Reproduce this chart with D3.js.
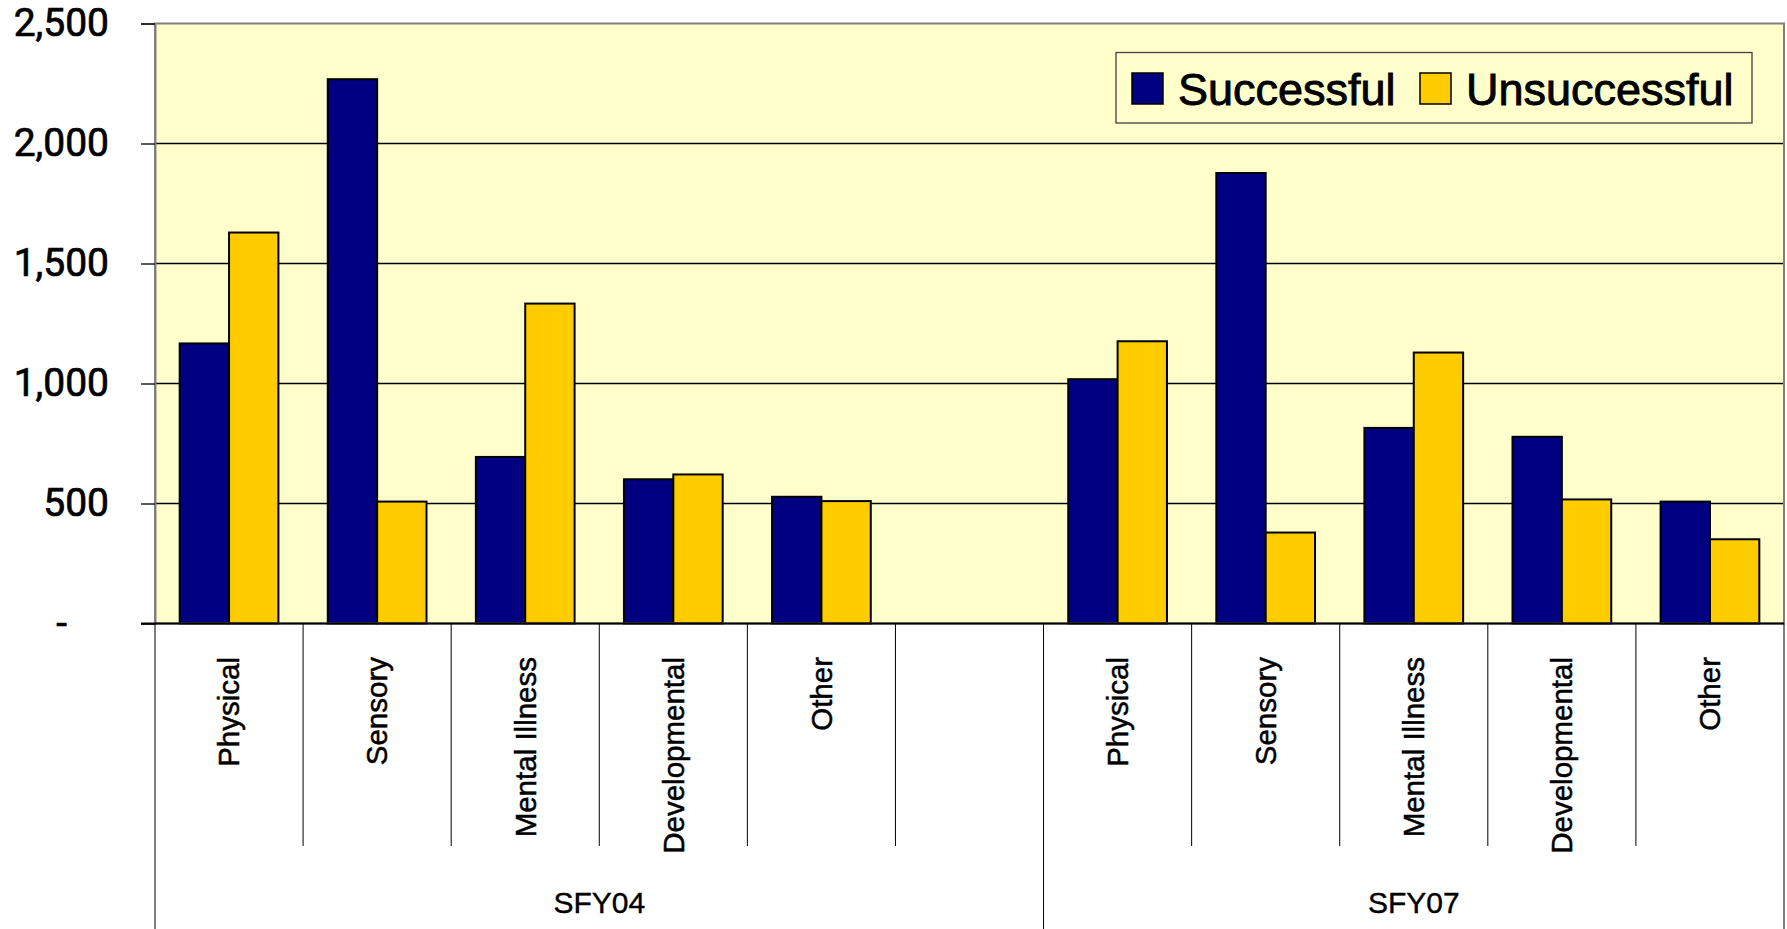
<!DOCTYPE html>
<html>
<head>
<meta charset="utf-8">
<script src="https://cdn.jsdelivr.net/npm/d3@7"></script>
<style>
  html, body { margin: 0; padding: 0; background: #ffffff; }
  svg { display: block; }
</style>
</head>
<body>
<svg id="chart" width="1787" height="929"></svg>
<script>
// ---------- data ----------
const years = ["SFY04", "SFY07"];
const categories = ["Physical", "Sensory", "Mental Illness", "Developmental", "Other"];
const seriesNames = ["Successful", "Unsuccessful"];
const successful04 = [1167, 2268, 694, 601, 528];
const unsuccessful04 = [1629, 508, 1333, 621, 510];
const successful07 = [1018, 1877, 815, 778, 508];
const unsuccessful07 = [1176, 379, 1129, 517, 351];
const tickValues = [0, 500, 1000, 1500, 2000, 2500];
const tickLabels = ["-", "500", "1,000", "1,500", "2,000", "2,500"];
// SFY04 group has one extra empty slot after its categories
const slotsPerYear = [categories.concat([""]), categories];
const colors = ["#000080", "#FFCC00"];

// ---------- layout ----------
const W = 1787, H = 929;
const plotLeft = 155, plotRight = 1784, plotTop = 23.5, plotBottom = 623.5;

// build slot table
const slots = [];
years.forEach((yr, yi) => {
  slotsPerYear[yi].forEach((cat, ci) => {
    slots.push({ id: yr + "|" + ci, year: yr, cat: cat, ci: ci, yi: yi });
  });
});
const valuesBy = {
  SFY04: [successful04, unsuccessful04],
  SFY07: [successful07, unsuccessful07]
};
const bars = [];
slots.forEach(s => {
  if (s.cat === "") return;
  seriesNames.forEach((sn, si) => {
    bars.push({ slot: s.id, series: si, value: valuesBy[s.year][si][s.ci] });
  });
});

const x = d3.scaleBand().domain(slots.map(s => s.id)).range([plotLeft, plotRight]).padding(0);
const bw = x.bandwidth();
const xInner = d3.scaleBand().domain(d3.range(seriesNames.length))
  .range([0, bw]).paddingInner(0).paddingOuter(0.5);
const y = d3.scaleLinear().domain([0, 2500]).range([plotBottom, plotTop]);

const svg = d3.select("#chart");

// plot background
svg.append("rect")
  .attr("x", plotLeft).attr("y", plotTop)
  .attr("width", plotRight - plotLeft).attr("height", plotBottom - plotTop)
  .attr("fill", "#FFFFCC");

// gridlines
svg.append("g").selectAll("line")
  .data(tickValues.filter(v => v > 0 && v < 2500))
  .join("line")
  .attr("x1", plotLeft).attr("x2", plotRight)
  .attr("y1", d => y(d)).attr("y2", d => y(d))
  .attr("stroke", "#000").attr("stroke-width", 1.3);

// bars
svg.append("g").selectAll("rect")
  .data(bars)
  .join("rect")
  .attr("x", d => x(d.slot) + xInner(d.series))
  .attr("y", d => y(d.value))
  .attr("width", xInner.bandwidth())
  .attr("height", d => y(0) - y(d.value))
  .attr("fill", d => colors[d.series])
  .attr("stroke", "#000")
  .attr("stroke-width", 2);

// plot border (gray)
svg.append("rect")
  .attr("x", plotLeft).attr("y", plotTop)
  .attr("width", plotRight - plotLeft).attr("height", plotBottom - plotTop)
  .attr("fill", "none").attr("stroke", "#808080").attr("stroke-width", 2);

// y axis
const yAxis = d3.axisLeft(y)
  .tickValues(tickValues)
  .tickFormat((d, i) => tickLabels[i])
  .tickSize(14)
  .tickPadding(32);
const gy = svg.append("g").attr("transform", `translate(${plotLeft},0)`).call(yAxis);
gy.select(".domain").attr("stroke", "#808080").attr("stroke-width", 2);
gy.selectAll(".tick line").attr("stroke", "#000").attr("stroke-width", 1.3);
gy.selectAll(".tick text")
  .attr("font-family", "Roboto, 'Liberation Sans', sans-serif")
  .attr("font-size", 39)
  .attr("fill", "#000")
  .attr("stroke", "#000").attr("stroke-width", 0.7);
gy.selectAll(".tick").filter(d => d === 0).select("text")
  .attr("x", -88);

// x axis line
svg.append("line")
  .attr("x1", plotLeft - 14).attr("x2", plotRight)
  .attr("y1", y(0)).attr("y2", y(0))
  .attr("stroke", "#000").attr("stroke-width", 2);

// category separator lines
const boundaries = slots.map(s => x(s.id)).concat([plotRight]);
const groupStarts = new Set();
let acc = 0;
groupStarts.add(0);
slotsPerYear.forEach(arr => { acc += arr.length; groupStarts.add(acc); });
svg.append("g").selectAll("line")
  .data(boundaries.map((bx, i) => ({ bx, long: groupStarts.has(i) })))
  .join("line")
  .attr("x1", d => d.bx).attr("x2", d => d.bx)
  .attr("y1", y(0)).attr("y2", d => d.long ? H : 846)
  .attr("stroke", "#000").attr("stroke-width", 1);

// category labels
svg.append("g").selectAll("text")
  .data(slots.filter(s => s.cat !== ""))
  .join("text")
  .attr("transform", d => `translate(${x(d.id) + bw / 2},657) rotate(-90)`)
  .attr("dy", "0.35em")
  .attr("text-anchor", "end")
  .attr("font-family", "'Liberation Sans', Arial, sans-serif")
  .attr("font-size", 29.5)
  .attr("fill", "#000")
  .attr("stroke", "#000").attr("stroke-width", 0.5)
  .text(d => d.cat);

// group labels
svg.append("g").selectAll("text")
  .data(years)
  .join("text")
  .attr("x", (yr, yi) => {
    const ids = slots.filter(s => s.yi === yi);
    return (x(ids[0].id) + x(ids[ids.length - 1].id) + bw) / 2;
  })
  .attr("y", 913)
  .attr("text-anchor", "middle")
  .attr("font-family", "'Liberation Sans', Arial, sans-serif")
  .attr("font-size", 30)
  .attr("fill", "#000")
  .attr("stroke", "#000").attr("stroke-width", 0.4)
  .text(d => d);

// legend
const lg = svg.append("g");
lg.append("rect")
  .attr("x", 1116).attr("y", 52.5).attr("width", 636).attr("height", 70.5)
  .attr("fill", "#FFFFCC").attr("stroke", "#404040").attr("stroke-width", 1.3);
const legX = [1132, 1420];
const items = lg.selectAll("g.item").data(seriesNames).join("g").attr("class", "item");
items.append("rect")
  .attr("x", (d, i) => legX[i]).attr("y", 73)
  .attr("width", 31).attr("height", 31)
  .attr("fill", (d, i) => colors[i])
  .attr("stroke", "#000").attr("stroke-width", 1.5);
items.append("text")
  .attr("x", (d, i) => legX[i] + 46).attr("y", 105)
  .attr("font-family", "'Liberation Sans', Arial, sans-serif")
  .attr("font-size", 45)
  .attr("fill", "#000")
  .attr("stroke", "#000").attr("stroke-width", 0.9)
  .text(d => d);
</script>
</body>
</html>
